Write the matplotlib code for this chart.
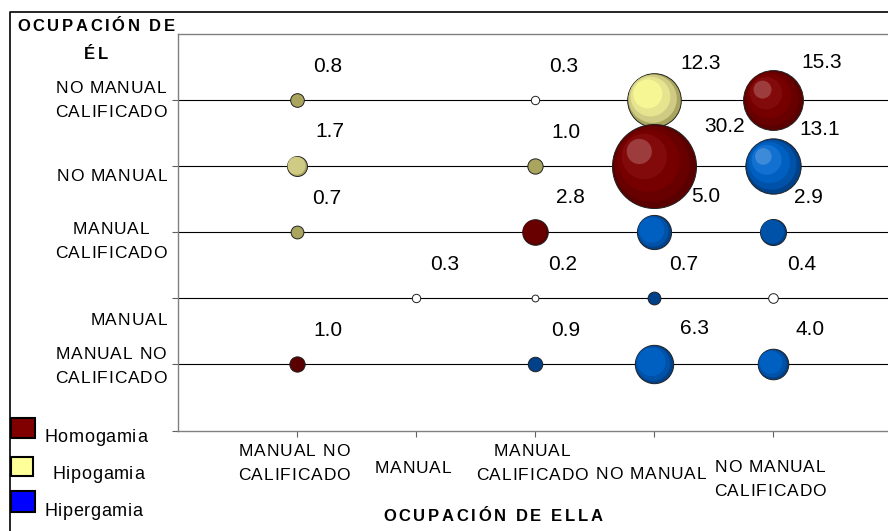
import numpy as np
import matplotlib
matplotlib.use('Agg')
import matplotlib.pyplot as plt
from matplotlib.transforms import ScaledTranslation
from matplotlib.lines import Line2D
from matplotlib.patches import Rectangle
from matplotlib.font_manager import FontProperties

plt.rcParams['font.family'] = ['Liberation Sans', 'DejaVu Sans']

# categorias de ocupacion (1..5)
ocupaciones_x = ['MANUAL NO\nCALIFICADO', 'MANUAL', 'MANUAL\nCALIFICADO', 'NO MANUAL', 'NO MANUAL\nCALIFICADO']
ocupaciones_y = ['MANUAL NO\nCALIFICADO', 'MANUAL', 'MANUAL\nCALIFICADO', 'NO MANUAL', 'NO MANUAL\nCALIFICADO']

# ocupacion de ella (x), ocupacion de el (y), porcentaje, tipo
ella = [1, 3, 4, 5, 1, 3, 4, 5, 1, 3, 4, 5, 2, 3, 4, 5, 1, 3, 4, 5]
el = [5, 5, 5, 5, 4, 4, 4, 4, 3, 3, 3, 3, 2, 2, 2, 2, 1, 1, 1, 1]
valores = [0.8, 0.3, 12.3, 15.3, 1.7, 1.0, 30.2, 13.1, 0.7, 2.8, 5.0, 2.9,
           0.3, 0.2, 0.7, 0.4, 1.0, 0.9, 6.3, 4.0]
tipo = ['hipo', 'otro', 'hipo', 'homo', 'hipo', 'hipo', 'homo', 'hiper',
        'hipo', 'homo', 'hiper', 'hiper', 'otro', 'otro', 'hiper', 'otro',
        'homo', 'hiper', 'hiper', 'hiper']

leyenda = ['Homogamia', 'Hipogamia', 'Hipergamia']

# colores: borde + capas del degradado
capas = {
    'homo': ['#5a0000', '#680000', '#760000', '#830a0a', '#9c3c3c'],
    'hiper': ['#00418a', '#0052a8', '#0060c2', '#1270d0', '#3c8ad8'],
    'hipo': ['#a9a55e', '#cfcb84', '#e6e48e', '#f6f695', '#ffffa3'],
}
escalas = [1.0, 0.9, 0.74, 0.54, 0.3]

DPI = 100
W, H = 888, 531
fig = plt.figure(figsize=(W / DPI, H / DPI), dpi=DPI)
ax = fig.add_axes([178 / W, (531 - 430.5) / H, 714 / W, 396.5 / H])
ax.set_xlim(0, 6)
ax.set_ylim(0, 6)

for s in ['left', 'bottom', 'top']:
    ax.spines[s].set_color('#808080')
    ax.spines[s].set_linewidth(1.0)
ax.spines['right'].set_visible(False)

ax.set_yticks(range(0, 6))
ax.set_yticklabels([])
ax.set_xticks(range(1, 6))
ax.set_xticklabels([])
ax.tick_params(axis='y', direction='out', length=4, width=0.8, color='#606060')
ax.tick_params(axis='x', direction='out', length=4, width=0.8, color='#606060')
for yy in range(1, 6):
    ax.axhline(yy, color='black', lw=0.8, zorder=1)

vmax = max(valores)
for x, y, v, t in zip(ella, el, valores, tipo):
    d = 84 * np.sqrt(v / vmax)  # diametro en px
    r = d / 2
    if t == 'otro':
        ax.scatter([x], [y], s=(d * 0.72) ** 2, color='white', edgecolors='#202020',
                   linewidths=0.7, zorder=3)
    else:
        cols = capas[t]
        n = max(0, min(4, int((d - 6) / 12)))
        for i in range(n + 1):
            sc = escalas[i]
            shift = (1 - sc) * r * 0.5 / DPI
            tr = ax.transData + ScaledTranslation(-shift, shift, fig.dpi_scale_trans)
            ax.scatter([x], [y], s=(d * sc * 0.72) ** 2, color=cols[i],
                       edgecolors='#202020' if i == 0 else 'none',
                       linewidths=0.7 if i == 0 else 0, transform=tr, zorder=3 + i * 0.01)
    dx = 25 + 0.8 * r
    if v == 5.0:
        dx += 13
    if v == 30.2:
        dx += 12
    ax.annotate(f'{v:.1f}', xy=(x, y), xytext=(dx * 0.72, (33 + 0.15 * r) * 0.72),
                textcoords='offset points', ha='center', va='center', fontsize=15, zorder=5)

# texto con espaciado entre letras (coordenadas en px, y desde arriba)
renderer = fig.canvas.get_renderer()


def ancho(s, prop, sp):
    ws = [renderer.get_text_width_height_descent(c, prop, ismath=False)[0] for c in s]
    return ws, sum(ws) + sp * (len(s) - 1)


def texto_esp(xc, yc, s, size, sp, weight='normal', ha='center'):
    prop = FontProperties(family='Liberation Sans', size=size, weight=weight)
    ws, total = ancho(s, prop, sp)
    x0 = xc - total / 2 if ha == 'center' else xc
    base = yc + 0.716 * size * DPI / 72 / 2  # centro de mayusculas -> linea base
    for c, w in zip(s, ws):
        fig.text(x0 / W, 1 - base / H, c, fontproperties=prop, ha='left', va='baseline')
        x0 += w + sp


FS, SP = 12.5, 0.9
LINEA = 24

# etiquetas eje x
px_x = [ax.transData.transform((i + 1, 0))[0] for i in range(5)]
centro_x = [462, 467, 461.5, 473, 478]
for i, lab in enumerate(ocupaciones_x):
    lineas = lab.split('\n')
    for j, ln in enumerate(lineas):
        yc = centro_x[i] + (j - (len(lineas) - 1) / 2) * LINEA
        texto_esp(px_x[i] - 3, yc, ln, FS, SP)

# etiquetas eje y (bloque alineado a la derecha)
px_y = [H - ax.transData.transform((0, i + 1))[1] for i in range(5)]
desp_y = [0, 20, 7.5, 9, -1]
prop_t = FontProperties(family='Liberation Sans', size=FS)
for i, lab in enumerate(ocupaciones_y):
    lineas = lab.split('\n')
    bloque = max(ancho(ln, prop_t, SP)[1] for ln in lineas)
    xc = 167 - bloque / 2
    for j, ln in enumerate(lineas):
        yc = px_y[i] + desp_y[i] + (j - (len(lineas) - 1) / 2) * LINEA
        texto_esp(xc, yc, ln, FS, SP)

# titulos de ejes
texto_esp(96, 25, 'OCUPACIÓN DE', 12, 2.65, weight='bold')
texto_esp(96, 53, 'ÉL', 12, 2.65, weight='bold')
texto_esp(493, 515, 'OCUPACIÓN DE ELLA', 12, 2.65, weight='bold')

# leyenda manual
ley_cols = ['#800000', '#ffff99', '#0000ff']
cajas = [(11, 418, 24, 20), (11, 457, 22, 19), (11, 491, 24, 21)]
txt_pos = [(44, 436), (52, 473), (44, 510)]
for lab, c, (bx, by, bw, bh), (tx, ty) in zip(leyenda, ley_cols, cajas, txt_pos):
    fig.add_artist(Rectangle((bx / W, 1 - (by + bh) / H), bw / W, bh / H,
                             transform=fig.transFigure, facecolor=c,
                             edgecolor='black', lw=1.5))
    texto_esp(tx, ty, lab, 13, 0.7, ha='left')

# marco del grafico
fig.add_artist(Line2D([10 / W, 10 / W, 1], [0, 1 - 12 / H, 1 - 12 / H],
                      transform=fig.transFigure, color='black', lw=1.2))

fig.savefig('out.png', dpi=DPI, facecolor='white')
